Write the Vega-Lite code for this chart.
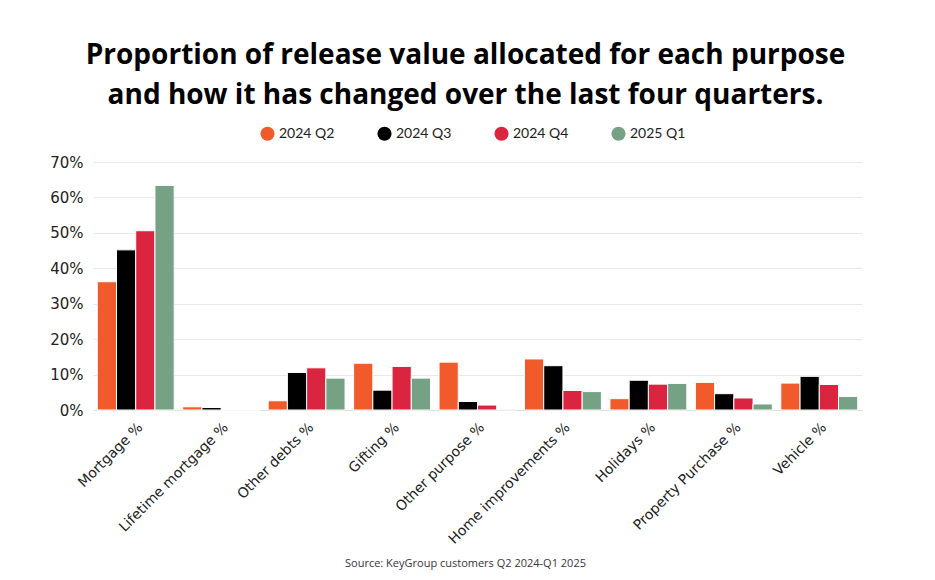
{
  "$schema": "https://vega.github.io/schema/vega-lite/v6.json",
  "width": 769,
  "height": 248,
  "padding": {"left": 49, "top": 42, "right": 70, "bottom": 5},
  "background": "white",
  "title": {
    "text": ["Proportion of release value allocated for each purpose", "and how it has changed over the last four quarters."],
    "font": "Open Sans",
    "fontSize": 28,
    "fontWeight": "bold",
    "color": "#000000",
    "lineHeight": 40,
    "anchor": "middle",
    "dx": -12,
    "offset": 16
  },
  "data": {
    "values": [
      {"purpose": "Mortgage %", "quarter": "2024 Q2", "value": 0.362},
      {"purpose": "Mortgage %", "quarter": "2024 Q3", "value": 0.452},
      {"purpose": "Mortgage %", "quarter": "2024 Q4", "value": 0.506},
      {"purpose": "Mortgage %", "quarter": "2025 Q1", "value": 0.634},
      {"purpose": "Lifetime mortgage %", "quarter": "2024 Q2", "value": 0.009},
      {"purpose": "Lifetime mortgage %", "quarter": "2024 Q3", "value": 0.007},
      {"purpose": "Lifetime mortgage %", "quarter": "2024 Q4", "value": 0.0},
      {"purpose": "Lifetime mortgage %", "quarter": "2025 Q1", "value": 0.0},
      {"purpose": "Other debts %", "quarter": "2024 Q2", "value": 0.026},
      {"purpose": "Other debts %", "quarter": "2024 Q3", "value": 0.106},
      {"purpose": "Other debts %", "quarter": "2024 Q4", "value": 0.119},
      {"purpose": "Other debts %", "quarter": "2025 Q1", "value": 0.09},
      {"purpose": "Gifting %", "quarter": "2024 Q2", "value": 0.132},
      {"purpose": "Gifting %", "quarter": "2024 Q3", "value": 0.056},
      {"purpose": "Gifting %", "quarter": "2024 Q4", "value": 0.123},
      {"purpose": "Gifting %", "quarter": "2025 Q1", "value": 0.09},
      {"purpose": "Other purpose %", "quarter": "2024 Q2", "value": 0.135},
      {"purpose": "Other purpose %", "quarter": "2024 Q3", "value": 0.024},
      {"purpose": "Other purpose %", "quarter": "2024 Q4", "value": 0.014},
      {"purpose": "Other purpose %", "quarter": "2025 Q1", "value": 0.002},
      {"purpose": "Home improvements %", "quarter": "2024 Q2", "value": 0.144},
      {"purpose": "Home improvements %", "quarter": "2024 Q3", "value": 0.125},
      {"purpose": "Home improvements %", "quarter": "2024 Q4", "value": 0.055},
      {"purpose": "Home improvements %", "quarter": "2025 Q1", "value": 0.052},
      {"purpose": "Holidays %", "quarter": "2024 Q2", "value": 0.032},
      {"purpose": "Holidays %", "quarter": "2024 Q3", "value": 0.084},
      {"purpose": "Holidays %", "quarter": "2024 Q4", "value": 0.073},
      {"purpose": "Holidays %", "quarter": "2025 Q1", "value": 0.075},
      {"purpose": "Property Purchase %", "quarter": "2024 Q2", "value": 0.078},
      {"purpose": "Property Purchase %", "quarter": "2024 Q3", "value": 0.046},
      {"purpose": "Property Purchase %", "quarter": "2024 Q4", "value": 0.034},
      {"purpose": "Property Purchase %", "quarter": "2025 Q1", "value": 0.017},
      {"purpose": "Vehicle %", "quarter": "2024 Q2", "value": 0.076},
      {"purpose": "Vehicle %", "quarter": "2024 Q3", "value": 0.095},
      {"purpose": "Vehicle %", "quarter": "2024 Q4", "value": 0.072},
      {"purpose": "Vehicle %", "quarter": "2025 Q1", "value": 0.038}
    ]
  },
  "mark": {"type": "bar", "stroke": "white", "strokeWidth": 1},
  "encoding": {
    "x": {
      "field": "purpose",
      "type": "nominal",
      "sort": null,
      "scale": {"paddingInner": 0.1, "paddingOuter": 0.05},
      "axis": {
        "title": "Source: KeyGroup customers Q2 2024-Q1 2025",
        "titleFont": "Open Sans",
        "titleFontSize": 11,
        "titleFontWeight": "normal",
        "titleColor": "#3a3340",
        "titlePadding": 11,
        "titleX": 372,
        "labelAngle": -45,
        "labelFont": "DejaVu Sans",
        "labelFontSize": 14,
        "labelColor": "#222222",
        "labelPadding": 10,
        "ticks": false,
        "domainColor": "#dddddd",
        "grid": false
      }
    },
    "xOffset": {"field": "quarter", "type": "nominal", "sort": ["2024 Q2", "2024 Q3", "2024 Q4", "2025 Q1"]},
    "y": {
      "field": "value",
      "type": "quantitative",
      "scale": {"domain": [0, 0.7]},
      "axis": {
        "title": null,
        "format": ".0%",
        "values": [0, 0.1, 0.2, 0.3, 0.4, 0.5, 0.6, 0.7],
        "labelFont": "DejaVu Sans",
        "labelFontSize": 15,
        "labelColor": "#222222",
        "labelPadding": 10,
        "ticks": false,
        "domain": false,
        "gridColor": "#e8e8e8"
      }
    },
    "color": {
      "field": "quarter",
      "type": "nominal",
      "scale": {
        "domain": ["2024 Q2", "2024 Q3", "2024 Q4", "2025 Q1"],
        "range": ["#F15A2B", "#000000", "#D9253F", "#75A184"]
      },
      "legend": {
        "orient": "none",
        "legendX": 167,
        "legendY": -36,
        "direction": "horizontal",
        "title": null,
        "symbolType": "circle",
        "symbolSize": 200,
        "symbolStrokeWidth": 0,
        "labelFont": "Lato",
        "labelFontSize": 14,
        "labelColor": "#222222",
        "columnPadding": 42
      }
    }
  },
  "config": {"view": {"stroke": null}}
}
